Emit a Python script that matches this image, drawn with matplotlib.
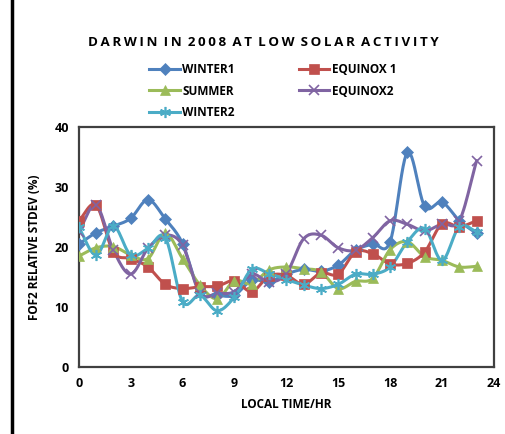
import numpy as np
import matplotlib.pyplot as plt
from matplotlib.lines import Line2D

# hourly values
hours = list(range(24))
winter1 = [20.5, 22.4, 23.5, 24.8, 27.9, 24.7, 20.6, 12.5, 12.0, 12.0, 14.5, 14.2,
           15.5, 16.3, 16.0, 17.0, 19.5, 20.5, 20.9, 35.8, 26.8, 27.5, 24.4, 22.3]
equinox1 = [24.4, 27.0, 19.2, 18.1, 16.7, 13.8, 13.1, 13.4, 13.5, 14.4, 12.6, 15.2,
            15.3, 13.8, 15.7, 15.5, 19.2, 18.9, 17.2, 17.3, 19.2, 23.9, 23.4, 24.4]
summer = [18.5, 19.9, 20.1, 18.7, 18.1, 22.3, 18.1, 13.7, 11.4, 14.4, 13.9, 16.2,
          16.7, 16.4, 15.9, 13.1, 14.3, 14.8, 19.6, 20.9, 18.4, 17.8, 16.7, 16.8]
equinox2 = [22.6, 27.0, 19.5, 15.5, 19.8, 22.0, 20.3, 12.3, 12.3, 12.6, 15.5, 14.2,
            15.6, 21.4, 22.0, 19.9, 19.5, 21.6, 24.4, 23.8, 22.7, 23.9, 24.4, 34.4]
winter2 = [23.3, 18.7, 23.5, 18.7, 19.8, 21.6, 10.9, 12.0, 9.4, 11.7, 16.3, 15.6,
           14.6, 13.7, 13.1, 13.8, 15.5, 15.5, 16.7, 20.9, 23.1, 17.8, 23.4, 22.6]

names = ["WINTER1", "EQUINOX 1", "SUMMER", "EQUINOX2", "WINTER2"]
series = [winter1, equinox1, summer, equinox2, winter2]
colors = ["#4F81BD", "#C0504D", "#9BBB59", "#8064A2", "#4BACC6"]
markers = ["D", "s", "^", "x", (6, 2, 0)]
msizes = [6, 7, 7, 7, 8]


def smooth(x, y, n=12):
    # Catmull-Rom curve through the points, like Excel's smoothed line
    x = np.asarray(x, float)
    y = np.asarray(y, float)
    px = np.concatenate([[2 * x[0] - x[1]], x, [2 * x[-1] - x[-2]]])
    py = np.concatenate([[2 * y[0] - y[1]], y, [2 * y[-1] - y[-2]]])
    t = np.linspace(0, 1, n, endpoint=False)
    xs, ys = [], []
    for i in range(1, len(px) - 2):
        for p, out in ((px, xs), (py, ys)):
            p0, p1, p2, p3 = p[i - 1], p[i], p[i + 1], p[i + 2]
            out.extend(0.5 * (2 * p1 + (-p0 + p2) * t
                              + (2 * p0 - 5 * p1 + 4 * p2 - p3) * t ** 2
                              + (-p0 + 3 * p1 - 3 * p2 + p3) * t ** 3))
    xs.append(x[-1])
    ys.append(y[-1])
    return xs, ys


plt.rcParams['font.family'] = ['Open Sans', 'DejaVu Sans']

fig = plt.figure(figsize=(5.05, 4.34), dpi=100)
ax = fig.add_axes([0.156, 0.154, 0.822, 0.553])

handles = []
for name, vals, c, m, ms in zip(names, series, colors, markers, msizes):
    sx, sy = smooth(hours, vals)
    ax.plot(sx, sy, color=c, lw=2.2, zorder=2)
    mew = 1.2 if m in ("x",) or isinstance(m, tuple) else 0.5
    ax.plot(hours, vals, ls="none", marker=m, ms=ms, color=c, mec=c, mew=mew, zorder=3)
    handles.append(Line2D([], [], color=c, lw=2.2, marker=m, ms=ms, mec=c, mew=mew))

ax.set_xlim(0, 24)
ax.set_ylim(0, 40)
ax.set_xticks(range(0, 25, 3))
ax.set_yticks(range(0, 41, 10))
ax.tick_params(labelsize=9, length=0, pad=7)
for lab in ax.get_xticklabels() + ax.get_yticklabels():
    lab.set_fontweight("bold")
for s in ax.spines.values():
    s.set_color("#404040")
    s.set_linewidth(1.6)

ax.set_xlabel("LOCAL TIME/HR", fontsize=8.5, fontweight="bold", labelpad=6)
ax.set_ylabel("FOF2 RELATIVE STDEV (%)", fontsize=8.5, fontweight="bold", labelpad=10)

title = "DARWIN IN 2008 AT LOW SOLAR ACTIVITY"
spaced = " \u2009".join("\u2009".join(w) for w in title.split())
fig.text(0.522, 0.903, spaced, ha="center", va="center", fontsize=9.6, fontweight="bold")

order = [0, 2, 4, 1, 3]
fig.legend([handles[i] for i in order], [names[i] for i in order], ncol=2,
           loc="upper center", bbox_to_anchor=(0.54, 0.88), frameon=False,
           prop={"size": 8.5, "weight": "bold"}, handlelength=2.6, handletextpad=0.2,
           columnspacing=5.4, labelspacing=0.75)

# black frame line at the left edge
fig.add_artist(Line2D([0.024, 0.024], [0, 1], color="black", lw=2.5,
                      transform=fig.transFigure))

fig.savefig("out.png", dpi=100)
